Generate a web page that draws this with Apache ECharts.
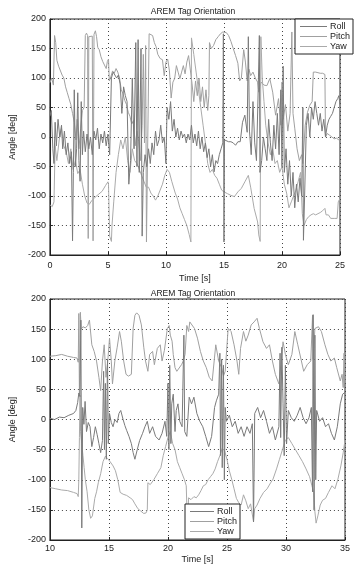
<!DOCTYPE html>
<html><head><meta charset="utf-8">
<script src="https://cdn.jsdelivr.net/npm/echarts@6/dist/echarts.min.js"></script>
<style>html,body{margin:0;padding:0;background:#fff}#c{width:358px;height:565px}</style>
</head><body><div id="c"></div>
<script>
// ---- data: [time (s), angle (deg)] ----
const titleText = "AREM Tag Orientation";
const seriesNames = ["Roll", "Pitch", "Yaw"];
const yTicks = [-200, -150, -100, -50, 0, 50, 100, 150, 200];
const topXTicks = [0, 5, 10, 15, 20, 25];
const botXTicks = [10, 15, 20, 25, 30, 35];

const topRoll = [[0,35],[0.12,45],[0.25,-20],[0.35,-45],[0.45,25],[0.55,-15],[0.7,30],[0.85,0],[1.0,20],[1.1,-20],[1.25,10],[1.4,-30],[1.55,-10],[1.7,-45],[1.85,-25],[1.95,-176],[2.02,-60],[2.1,80],[2.2,-50],[2.3,-20],[2.4,75],[2.5,-40],[2.6,-75],[2.7,60],[2.8,-30],[2.9,10],[3.05,-25],[3.2,5],[3.35,-20],[3.5,0],[3.65,-30],[3.8,10],[3.95,-5],[4.1,15],[4.25,-20],[4.4,5],[4.55,-10],[4.7,10],[4.85,-15],[5.0,5],[5.15,-30],[5.3,100],[5.45,110],[5.6,112],[5.75,100],[5.9,105],[6.05,90],[6.2,40],[6.35,85],[6.5,70],[6.65,60],[6.8,-80],[6.95,-40],[7.1,100],[7.25,-20],[7.4,160],[7.5,-50],[7.6,165],[7.7,-60],[7.85,150],[7.95,-168],[8.05,-60],[8.2,-30],[8.35,-50],[8.5,-20],[8.65,-45],[8.8,-10],[8.95,-30],[9.1,10],[9.25,-15],[9.4,-5],[9.55,20],[9.7,-10],[9.85,0],[10.0,-45],[10.1,50],[10.25,30],[10.4,60],[10.55,10],[10.7,30],[10.85,0],[11.0,15],[11.15,-5],[11.3,10],[11.45,0],[11.6,5],[11.75,-10],[11.9,5],[12.05,-5],[12.2,20],[12.35,-10],[12.5,5],[12.65,-15],[12.8,10],[12.95,-20],[13.1,0],[13.25,-25],[13.4,-10],[13.55,-35],[13.7,-20],[13.85,-50],[14.0,-30],[14.15,-59],[14.3,-40],[14.45,-45],[14.6,-30],[14.75,-20],[14.9,-10],[14.95,175],[15.0,-178],[15.05,-5],[15.2,-3],[15.4,-8],[15.6,-8],[15.8,-10],[16.0,-14],[16.2,-8],[16.4,-8],[16.6,25],[16.8,37],[17.0,8],[17.1,170],[17.2,10],[17.35,-30],[17.5,60],[17.65,-10],[17.8,-40],[17.95,80],[18.05,172],[18.1,-60],[18.25,-40],[18.4,0],[18.55,-20],[18.7,-40],[18.85,30],[19.0,-10],[19.15,-40],[19.3,20],[19.45,-20],[19.6,40],[19.75,-30],[19.9,80],[20.0,-50],[20.1,120],[20.2,-60],[20.35,-20],[20.5,-80],[20.65,-40],[20.8,-100],[20.95,-60],[21.1,-120],[21.25,-80],[21.4,-110],[21.55,-70],[21.7,-100],[21.8,50],[21.85,-175],[21.95,-100],[22.1,20],[22.25,40],[22.4,0],[22.55,50],[22.7,30],[22.85,60],[23.0,40],[23.15,20],[23.3,40],[23.45,10],[23.6,30],[23.75,0],[23.9,20],[24.05,30],[24.2,35],[24.35,40],[24.5,50],[24.65,60],[24.8,65],[24.9,70],[25,55]];

const topPitch = [[0,92],[0.15,100],[0.3,88],[0.4,172],[0.5,160],[0.6,130],[0.75,120],[0.9,122],[1.05,105],[1.2,100],[1.35,85],[1.5,75],[1.65,65],[1.8,55],[1.95,40],[2.1,25],[2.25,-5],[2.35,30],[2.5,-20],[2.65,15],[2.8,45],[2.95,50],[3.05,172],[3.15,176],[3.25,172],[3.3,-172],[3.35,170],[3.5,173],[3.65,171],[3.72,-176],[3.8,174],[3.92,180],[4.02,170],[4.12,152],[4.25,148],[4.4,136],[4.55,128],[4.7,122],[4.85,116],[4.95,128],[5.05,132],[5.12,95],[5.25,102],[5.4,112],[5.55,108],[5.7,116],[5.85,110],[6.0,100],[6.15,80],[6.3,73],[6.45,62],[6.6,55],[6.75,42],[6.9,35],[7.05,22],[7.2,28],[7.35,-15],[7.5,10],[7.65,-8],[7.8,-40],[7.95,20],[8.05,140],[8.15,-10],[8.25,155],[8.32,-178],[8.48,-178],[8.55,175],[8.7,176],[8.85,172],[9.0,160],[9.15,153],[9.3,140],[9.5,133],[9.7,131],[9.85,104],[10.0,127],[10.15,132],[10.3,112],[10.45,66],[10.6,93],[10.75,99],[10.9,121],[11.05,110],[11.2,99],[11.35,110],[11.5,121],[11.65,107],[11.8,127],[11.95,138],[12.1,140],[12.25,90],[12.4,60],[12.55,95],[12.7,70],[12.85,100],[13.0,60],[13.15,85],[13.3,50],[13.45,80],[13.6,45],[13.7,70],[13.75,160],[13.9,150],[14.1,155],[14.3,165],[14.5,170],[14.7,175],[14.9,178],[15.05,180],[15.2,177],[15.4,172],[15.6,162],[15.8,150],[16.0,138],[16.2,125],[16.35,95],[16.5,100],[16.7,148],[16.85,127],[17.0,95],[17.15,115],[17.3,104],[17.5,110],[17.7,100],[17.9,93],[18.0,76],[18.2,93],[18.45,88],[18.7,87],[18.95,99],[19.2,76],[19.45,37],[19.7,65],[19.9,20],[20.0,93],[20.1,30],[20.3,55],[20.5,10],[20.7,40],[20.85,178],[20.95,40],[21.1,15],[21.3,-20],[21.5,-40],[21.7,-30],[21.8,-45],[22.0,20],[22.2,42],[22.4,54],[22.6,60],[22.7,110],[22.9,110],[23.1,109],[23.3,108],[23.5,108],[23.7,106],[23.75,0],[23.9,6],[24.1,3],[24.3,0],[24.5,-3],[24.7,-2],[24.9,-5],[25,-3]];

const topYaw = [[0,-115],[0.2,-118],[0.35,-110],[0.45,-15],[0.6,-40],[0.8,-5],[1.0,15],[1.2,-15],[1.4,-25],[1.6,-45],[1.8,-20],[2.0,-55],[2.2,-40],[2.4,-62],[2.6,-55],[2.8,-80],[3.0,-100],[3.2,-112],[3.4,-114],[3.6,-108],[3.9,-102],[4.2,-97],[4.5,-92],[4.8,-82],[5.0,-76],[5.05,-80],[5.15,-168],[5.3,-177],[5.35,-150],[5.5,-110],[5.7,-60],[5.9,-30],[6.1,-5],[6.3,-20],[6.5,0],[6.7,-40],[6.9,-60],[7.1,-20],[7.3,-40],[7.5,-45],[7.7,-55],[7.9,-65],[8.1,-75],[8.3,-85],[8.5,-85],[8.7,-95],[8.9,-100],[9.1,-107],[9.3,-100],[9.5,-90],[9.7,-80],[9.9,-65],[10.1,-55],[10.3,-60],[10.5,-75],[10.8,-95],[11.0,-105],[11.2,-120],[11.4,-130],[11.6,-140],[11.8,-150],[12.0,-165],[12.15,-178],[12.2,168],[12.4,140],[12.6,110],[12.8,80],[13.0,50],[13.2,20],[13.4,-10],[13.6,-45],[13.8,-60],[14.0,-55],[14.2,-65],[14.4,-70],[14.6,-80],[14.8,-90],[15.0,-93],[15.3,-96],[15.6,-99],[15.9,-101],[16.2,-93],[16.5,-87],[16.8,-76],[17.1,-65],[17.3,-85],[17.6,-121],[17.9,-144],[18.0,-166],[18.12,-177],[18.18,170],[18.3,100],[18.45,60],[18.6,20],[18.8,-10],[19.0,-30],[19.2,-20],[19.4,-45],[19.6,-40],[19.8,-60],[20.0,-50],[20.2,-80],[20.4,-95],[20.6,-120],[20.8,-110],[21.0,-100],[21.2,-90],[21.4,-75],[21.6,-60],[21.75,-130],[21.9,-150],[22.1,-140],[22.3,-135],[22.5,-132],[22.7,-130],[22.9,-132],[23.1,-130],[23.3,-128],[23.5,-125],[23.7,-121],[23.8,-132],[24.0,-132],[24.2,-138],[24.5,-138],[24.75,-138],[24.85,-110],[25,-104]];

const botRoll = [[10,2],[10.4,0],[10.8,4],[11.2,3],[11.6,7],[12.0,10],[12.2,15],[12.35,28],[12.45,44],[12.55,38],[12.62,165],[12.7,-180],[12.78,20],[12.88,-8],[12.98,30],[13.1,-20],[13.25,-5],[13.4,-12],[13.55,-45],[13.7,-30],[13.85,-12],[14.0,-25],[14.15,-40],[14.3,-55],[14.45,-35],[14.55,80],[14.62,-50],[14.7,60],[14.78,-66],[14.88,100],[14.95,-40],[15.05,10],[15.2,-5],[15.35,-12],[15.5,0],[15.7,-5],[15.85,10],[16.0,15],[16.2,0],[16.35,-10],[16.5,-18],[16.7,-28],[16.9,-40],[17.05,-55],[17.2,-66],[17.4,-50],[17.6,-35],[17.85,-23],[18.05,-12],[18.25,-3],[18.45,-23],[18.7,-12],[18.95,-28],[19.25,-34],[19.5,-23],[19.75,-3],[19.9,-28],[20.0,60],[20.08,-50],[20.15,90],[20.25,-40],[20.32,26],[20.45,42],[20.6,-20],[20.7,15],[20.85,26],[21.0,-3],[21.2,-12],[21.35,140],[21.42,-20],[21.6,-28],[21.8,37],[22.0,26],[22.2,37],[22.45,10],[22.7,-3],[22.95,-12],[23.2,-28],[23.45,-45],[23.7,-28],[23.95,20],[24.1,31],[24.3,42],[24.4,110],[24.45,-60],[24.55,100],[24.6,-80],[24.7,90],[24.78,-100],[24.85,20],[24.95,-3],[25.2,7],[25.45,-12],[25.7,-3],[25.95,-23],[26.2,-12],[26.45,-28],[26.7,-12],[26.95,-23],[27.15,-7],[27.25,-170],[27.35,10],[27.6,20],[27.85,3],[28.1,15],[28.35,-3],[28.6,-23],[28.85,-12],[29.1,-34],[29.4,-12],[29.5,110],[29.55,-30],[29.65,120],[29.75,26],[29.85,-60],[29.95,90],[30.05,-40],[30.2,15],[30.45,3],[30.7,-3],[30.95,7],[31.2,20],[31.45,3],[31.7,-7],[31.95,3],[32.15,20],[32.25,-120],[32.3,174],[32.38,-150],[32.45,140],[32.52,-100],[32.6,15],[32.85,-3],[33.1,3],[33.35,-12],[33.6,-7],[33.85,-23],[34.1,-34],[34.35,-12],[34.6,26],[34.8,42],[35,45]];

const botPitch = [[10,105],[10.5,106],[11,108],[11.5,105],[12,103],[12.3,102],[12.4,95],[12.45,176],[12.5,40],[12.58,178],[12.65,150],[12.8,154],[13.0,152],[13.2,156],[13.35,165],[13.45,168],[13.55,124],[13.75,113],[13.95,97],[14.15,70],[14.3,48],[14.45,97],[14.6,124],[14.75,70],[14.9,97],[15.05,135],[15.2,97],[15.3,59],[15.5,97],[15.7,120],[15.9,146],[16.05,130],[16.25,97],[16.45,75],[16.65,72],[16.9,75],[17.05,151],[17.2,173],[17.35,177],[17.55,173],[17.75,157],[17.95,120],[18.1,97],[18.3,80],[18.45,108],[18.7,113],[18.85,91],[19.1,118],[19.35,124],[19.5,97],[19.7,115],[19.95,151],[20.1,156],[20.2,140],[20.35,130],[20.45,108],[20.6,86],[20.75,80],[20.9,83],[21.15,91],[21.3,97],[21.45,108],[21.6,156],[21.75,146],[21.85,162],[22.0,165],[22.25,151],[22.5,135],[22.75,113],[23.0,97],[23.25,86],[23.5,70],[23.75,64],[24.05,124],[24.3,97],[24.55,86],[24.7,72],[24.85,80],[25.1,151],[25.35,146],[25.6,124],[25.85,97],[26.0,75],[26.15,118],[26.4,146],[26.6,130],[26.8,140],[27.05,157],[27.3,162],[27.55,168],[27.75,151],[28.05,129],[28.35,118],[28.6,124],[28.85,97],[29.1,75],[29.4,59],[29.6,97],[29.75,129],[29.95,108],[30.2,91],[30.5,108],[30.75,146],[31.0,124],[31.25,102],[31.5,80],[31.8,91],[32.1,97],[32.25,173],[32.3,100],[32.45,151],[32.75,154],[33.0,146],[33.3,124],[33.55,108],[33.8,97],[34.1,102],[34.3,86],[34.6,64],[34.75,75],[34.85,53],[34.92,110],[35,60]];

const botYaw = [[10,-113],[10.5,-115],[11,-117],[11.5,-118],[12,-121],[12.3,-123],[12.4,-128],[12.45,-99],[12.5,-30],[12.55,40],[12.6,-20],[12.7,-40],[12.8,-60],[12.9,-80],[13.0,-100],[13.15,-120],[13.3,-150],[13.45,-164],[13.6,-160],[13.8,-131],[13.95,-120],[14.1,-105],[14.3,-90],[14.5,-70],[14.7,-61],[14.9,-65],[15.1,-70],[15.35,-77],[15.55,-85],[15.75,-100],[15.95,-121],[16.2,-124],[16.5,-126],[16.8,-130],[17.0,-133],[17.2,-140],[17.45,-148],[17.7,-152],[17.95,-156],[18.15,-155],[18.25,-150],[18.3,-105],[18.5,-108],[18.8,-100],[19.1,-90],[19.4,-80],[19.6,-60],[19.8,-45],[20.0,-30],[20.2,-20],[20.4,-40],[20.6,-50],[20.8,-70],[21.0,-80],[21.2,-90],[21.4,-100],[21.55,-110],[21.65,-178],[21.75,-130],[21.95,-133],[22.2,-128],[22.4,-130],[22.6,-125],[22.8,-118],[23.0,-110],[23.2,-108],[23.4,-100],[23.6,-95],[23.8,-90],[24.0,-82],[24.2,-70],[24.4,-60],[24.6,-48],[24.8,-52],[25.0,-66],[25.2,-85],[25.4,-99],[25.6,-115],[25.8,-131],[26.0,-138],[26.2,-142],[26.4,-125],[26.6,-135],[26.8,-148],[27.0,-140],[27.15,-137],[27.25,-170],[27.35,-148],[27.55,-142],[27.8,-131],[28.1,-121],[28.4,-115],[28.7,-105],[28.9,-99],[29.2,-82],[29.45,-66],[29.7,-50],[29.95,-34],[30.2,-30],[30.5,-40],[30.8,-50],[31.1,-60],[31.4,-70],[31.7,-82],[32.0,-95],[32.2,-110],[32.35,-121],[32.45,-153],[32.55,-172],[32.7,-160],[32.9,-142],[33.1,-134],[33.35,-131],[33.6,-121],[33.9,-110],[34.15,-115],[34.4,-99],[34.65,-77],[34.85,-55],[35,-34]];

// ---- styling ----
const colors = {Roll:'#7a7a7a', Pitch:'#a0a0a0', Yaw:'#aaaaaa'};
const FONT = 'Liberation Sans, Arial, sans-serif';
const txt = '#222';

function xAxisCfg(gi, ticks, nameGap, margin){
  return {type:'value', gridIndex:gi, min:ticks[0], max:ticks[ticks.length-1], interval:5,
    name:'Time [s]', nameLocation:'middle', nameGap:nameGap,
    nameTextStyle:{color:txt, fontSize:9, fontFamily:FONT},
    axisLine:{show:true, onZero:false, lineStyle:{color:'#222'}},
    axisTick:{show:true, inside:true, length:3, lineStyle:{color:'#222'}},
    axisLabel:{color:txt, fontSize:9, fontFamily:FONT, margin:margin},
    splitLine:{show:true, lineStyle:{color:'#444', type:[1,3], width:1}}};
}
function yAxisCfg(gi, nameGap){
  return {type:'value', gridIndex:gi, min:yTicks[0], max:yTicks[yTicks.length-1], interval:50,
    name:'Angle [deg]', nameLocation:'middle', nameGap:nameGap, nameRotate:90,
    nameTextStyle:{color:txt, fontSize:9, fontFamily:FONT},
    axisLine:{show:true, onZero:false, lineStyle:{color:'#222'}},
    axisTick:{show:true, inside:true, length:3, lineStyle:{color:'#222'}},
    axisLabel:{color:txt, fontSize:9, fontFamily:FONT, margin:4},
    splitLine:{show:true, lineStyle:{color:'#444', type:[1,3], width:1}}};
}
function ser(name, data, gi){
  return {name:name, type:'line', xAxisIndex:gi, yAxisIndex:gi, data:data,
    showSymbol:false, symbol:'none', lineStyle:{width:1, color:colors[name]}, itemStyle:{color:colors[name]},
    z: name==='Roll'?3:2};
}
function legendCfg(left, top, iconW, pad){
  return {data:seriesNames, orient:'vertical', left:left, top:top, icon:'rect', itemWidth:iconW, itemHeight:1,
    itemGap:1, padding:pad, borderColor:'#222', borderWidth:1, backgroundColor:'#fff',
    textStyle:{color:txt, fontSize:9, fontFamily:FONT, padding:[0,0,0,-2]}, selectedMode:false};
}

const chart = echarts.init(document.getElementById('c'), null, {renderer:'canvas'});
chart.setOption({
  animation:false,
  backgroundColor:'#fff',
  title:[
    {text:titleText, left:188, top:2, textAlign:'center', textStyle:{fontSize:8.5, fontWeight:'normal', color:txt, fontFamily:FONT}},
    {text:titleText, left:188, top:284, textAlign:'center', textStyle:{fontSize:8.5, fontWeight:'normal', color:txt, fontFamily:FONT}}
  ],
  grid:[
    {left:37, top:19, width:303, height:236, show:true, borderColor:'#222', borderWidth:1, backgroundColor:'transparent'},
    {left:32, top:299, width:313, height:243, show:true, borderColor:'#222', borderWidth:1, backgroundColor:'transparent'}
  ],
  xAxis:[xAxisCfg(0, topXTicks, 19, 6), xAxisCfg(1, botXTicks, 15, 4)],
  yAxis:[yAxisCfg(0, 26), yAxisCfg(1, 24)],
  legend:[legendCfg(295, 19, 27, [3,3,3,5]), legendCfg(185, 504, 24, [3,3,3,5])],
  series:[
    ser('Roll', topRoll, 0), ser('Pitch', topPitch, 0), ser('Yaw', topYaw, 0),
    ser('Roll', botRoll, 1), ser('Pitch', botPitch, 1), ser('Yaw', botYaw, 1)
  ]
});
</script></body></html>
